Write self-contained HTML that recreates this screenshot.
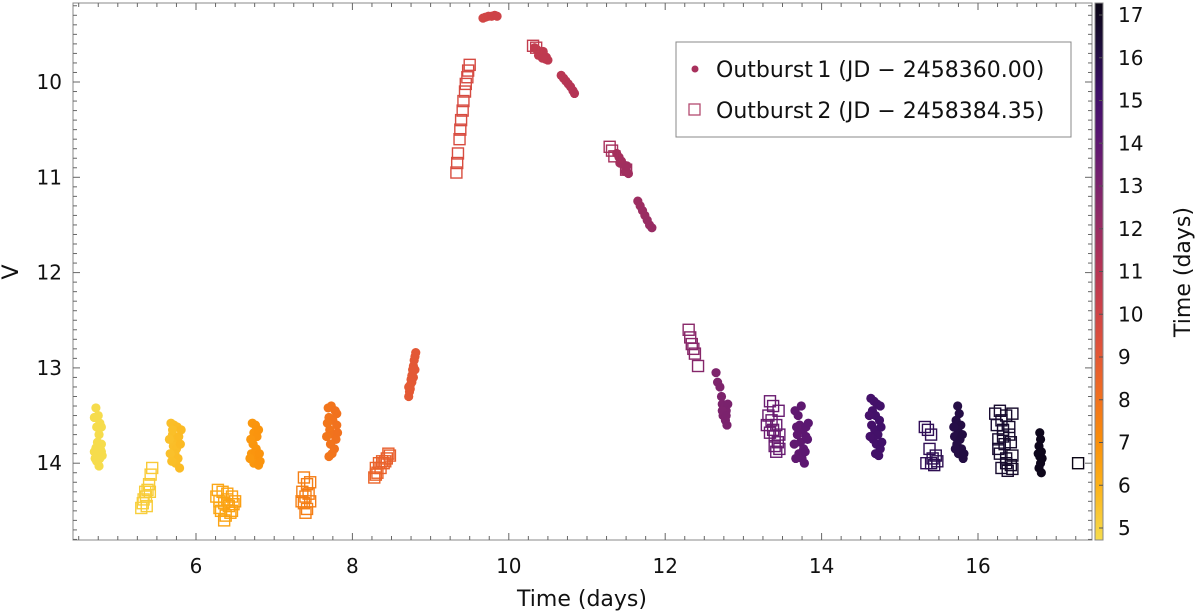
<!DOCTYPE html>
<html><head><meta charset="utf-8"><style>
body{margin:0;background:#fff;}
svg{display:block;font-family:"DejaVu Sans","Liberation Sans",sans-serif;}
</style></head><body>
<svg id="chart" width="1200" height="614">
<defs>
<linearGradient id="cbar" x1="0" y1="1" x2="0" y2="0">
<stop offset="0" stop-color="#f6dc4c"/><stop offset="0.1" stop-color="#fcb21a"/>
<stop offset="0.19" stop-color="#f98c0a"/><stop offset="0.28" stop-color="#ef6b23"/>
<stop offset="0.36" stop-color="#e0533a"/><stop offset="0.44" stop-color="#ca404a"/>
<stop offset="0.52" stop-color="#b03257"/><stop offset="0.6" stop-color="#922b66"/>
<stop offset="0.68" stop-color="#74206f"/><stop offset="0.76" stop-color="#561571"/>
<stop offset="0.84" stop-color="#3b0f66"/><stop offset="0.92" stop-color="#1d0d3a"/>
<stop offset="1" stop-color="#0a0514"/>
</linearGradient>
</defs>
<g id="marks"></g>
<g id="axes"></g>
</svg>
<script>
const xTicks=[6,8,10,12,14,16];
const yTicks=[10,11,12,13,14];
const cTicks=[5,6,7,8,9,10,11,12,13,14,15,16,17];
const outburst1=[
[4.72,13.42],[4.75,13.5],[4.77,13.58],[4.73,13.62],[4.76,13.7],[4.74,13.78],[4.72,13.84],[4.78,13.86],[4.75,13.9],[4.77,13.95],[4.73,13.98],[4.76,14.03],[4.79,13.88],[4.74,13.82],[4.7,13.88],[4.8,13.92],[4.71,13.95],[4.79,13.8],[4.7,13.52],[4.79,13.62],
[5.68,13.58],[5.72,13.6],[5.76,13.62],[5.7,13.7],[5.74,13.75],[5.78,13.72],[5.71,13.82],[5.75,13.85],[5.73,13.9],[5.77,13.95],[5.74,14.0],[5.79,14.05],[5.7,13.65],[5.66,13.75],[5.8,13.8],[5.67,13.9],[5.81,13.65],[5.69,13.98],
[6.72,13.58],[6.76,13.6],[6.74,13.68],[6.78,13.72],[6.73,13.8],[6.77,13.85],[6.71,13.9],[6.75,13.92],[6.79,13.95],[6.74,14.0],[6.8,14.02],[6.76,13.88],[6.69,13.95],[6.81,13.9],[6.7,13.75],[6.8,13.65],[6.82,13.98],
[7.69,13.42],[7.73,13.4],[7.78,13.45],[7.7,13.52],[7.75,13.55],[7.8,13.6],[7.71,13.65],[7.76,13.7],[7.79,13.75],[7.72,13.8],[7.77,13.85],[7.74,13.9],[7.7,13.93],[7.67,13.72],[7.81,13.68],[7.68,13.58],[7.8,13.48],
[8.72,13.3],[8.73,13.25],[8.74,13.18],[8.75,13.12],[8.76,13.08],[8.77,13.02],[8.78,12.98],[8.79,12.92],[8.8,12.88],[8.81,12.84],[8.76,13.15],[8.74,13.22],[8.78,13.1],[8.8,13.02],[8.72,13.2],
[9.67,9.33],[9.7,9.32],[9.74,9.31],[9.78,9.31],[9.82,9.3],[9.85,9.31],
[10.33,9.64],[10.36,9.66],[10.39,9.68],[10.42,9.7],[10.45,9.72],[10.48,9.74],[10.5,9.77],[10.4,9.7],[10.44,9.68],[10.47,9.76],[10.38,9.72],[10.43,9.75],
[10.67,9.93],[10.7,9.96],[10.73,9.99],[10.76,10.02],[10.79,10.05],[10.82,10.09],[10.84,10.12],
[11.38,10.75],[11.41,10.79],[11.44,10.83],[11.47,10.87],[11.5,10.91],[11.53,10.96],[11.45,10.86],[11.49,10.94],[11.42,10.85],[11.51,10.88],
[11.65,11.25],[11.68,11.3],[11.71,11.35],[11.74,11.4],[11.77,11.45],[11.8,11.5],[11.83,11.53],
[12.65,13.05],[12.67,13.15],[12.7,13.2],[12.72,13.3],[12.73,13.38],[12.75,13.42],[12.78,13.45],[12.74,13.5],[12.77,13.55],[12.79,13.6],[12.76,13.4],[12.8,13.38],[12.73,13.45],[12.78,13.5],
[13.66,13.45],[13.7,13.5],[13.74,13.4],[13.72,13.6],[13.76,13.65],[13.69,13.7],[13.8,13.62],[13.73,13.78],[13.77,13.85],[13.71,13.9],[13.75,13.95],[13.78,14.0],[13.82,13.75],[13.65,13.8],[13.83,13.58],[13.68,13.62],[13.79,13.88],[13.67,13.95],[13.8,13.72],
[14.63,13.32],[14.67,13.35],[14.71,13.38],[14.65,13.45],[14.69,13.5],[14.74,13.55],[14.64,13.6],[14.68,13.65],[14.72,13.7],[14.66,13.75],[14.7,13.8],[14.75,13.85],[14.69,13.9],[14.73,13.92],[14.61,13.5],[14.76,13.62],[14.62,13.72],[14.77,13.78],[14.75,13.4],
[15.74,13.4],[15.76,13.48],[15.72,13.55],[15.78,13.6],[15.74,13.65],[15.7,13.72],[15.77,13.75],[15.73,13.8],[15.79,13.85],[15.75,13.9],[15.81,13.95],[15.69,13.62],[15.8,13.7],[15.71,13.85],[15.82,13.9],
[16.79,13.68],[16.8,13.75],[16.78,13.82],[16.81,13.88],[16.79,13.93],[16.8,14.0],[16.78,14.05],[16.81,14.1],[16.77,13.9],[16.82,13.95]
];
const outburst2=[
[5.44,14.05],[5.42,14.12],[5.4,14.22],[5.38,14.28],[5.36,14.35],[5.32,14.42],[5.3,14.47],[5.35,14.3],[5.33,14.38],[5.37,14.45],[5.41,14.3],
[6.28,14.28],[6.34,14.3],[6.4,14.32],[6.46,14.35],[6.3,14.4],[6.36,14.42],[6.42,14.45],[6.48,14.43],[6.32,14.5],[6.38,14.55],[6.44,14.52],[6.36,14.6],[6.26,14.35],[6.5,14.4],[6.46,14.5],[6.3,14.47],[6.4,14.38],
[7.38,14.15],[7.42,14.22],[7.46,14.2],[7.36,14.3],[7.4,14.35],[7.44,14.32],[7.38,14.42],[7.42,14.48],[7.4,14.52],[7.35,14.4],[7.46,14.4],
[8.28,14.15],[8.32,14.1],[8.36,14.05],[8.4,14.0],[8.44,13.95],[8.48,13.92],[8.3,14.05],[8.34,14.0],[8.38,13.98],[8.46,13.9],[8.3,14.12],[8.42,13.98],
[9.33,10.95],[9.34,10.85],[9.35,10.75],[9.37,10.6],[9.38,10.5],[9.39,10.4],[9.41,10.3],[9.42,10.2],[9.44,10.1],[9.45,10.02],[9.47,9.95],[9.48,9.88],[9.5,9.82],
[10.31,9.62],[10.35,9.64],
[11.29,10.68],[11.32,10.72],[11.35,10.78],[11.5,10.92],
[12.3,12.6],[12.32,12.68],[12.34,12.75],[12.36,12.8],[12.38,12.85],[12.42,12.98],
[13.34,13.35],[13.38,13.4],[13.32,13.5],[13.36,13.55],[13.42,13.6],[13.34,13.68],[13.4,13.72],[13.44,13.78],[13.46,13.85],[13.42,13.88],[13.3,13.6],[13.45,13.45],[13.38,13.65],[13.46,13.7],[13.4,13.82],
[15.32,13.62],[15.36,13.65],[15.4,13.7],[15.38,13.85],[15.42,13.95],[15.34,14.0],[15.44,14.02],[15.48,13.98],[15.4,14.0],[15.46,13.92],
[16.22,13.48],[16.28,13.45],[16.36,13.5],[16.44,13.48],[16.24,13.6],[16.32,13.65],[16.4,13.62],[16.26,13.75],[16.34,13.8],[16.42,13.78],[16.28,13.9],[16.36,13.95],[16.44,13.92],[16.3,14.05],[16.38,14.08],[16.42,14.02],[16.3,13.55],[16.4,13.7],[16.26,13.85],[16.36,14.0],[16.44,14.06],[16.32,13.72],
[17.28,14.0]
];
const NS="http://www.w3.org/2000/svg";
const L=73,R=1092,T=3,B=540;
const xs=t=>196+(t-6)*78.2;
const ys=v=>82+(v-10)*95.3;
const cs=c=>528-(c-5)*42.75;
const stops=[[5,[246,220,76]],[6,[252,178,26]],[7,[249,140,10]],[8,[239,107,35]],[9,[224,83,58]],[10,[202,64,74]],[11,[176,50,87]],[12,[146,43,102]],[13,[116,32,111]],[14,[86,21,113]],[15,[59,15,102]],[16,[29,13,58]],[17,[10,5,20]]];
function cmap(t){
  if(t<=5)return 'rgb('+stops[0][1]+')';
  if(t>=17)return 'rgb('+stops[12][1]+')';
  const i=Math.floor(t-5),f=t-5-i,a=stops[i][1],b=stops[i+1][1];
  return 'rgb('+a.map((v,k)=>Math.round(v+(b[k]-v)*f)).join(',')+')';
}
function mk(tag,attrs,parent){const e=document.createElementNS(NS,tag);for(const k in attrs)e.setAttribute(k,attrs[k]);parent.appendChild(e);return e;}
const marks=document.getElementById('marks');
const axes=document.getElementById('axes');
outburst1.forEach(p=>{
  const c=mk('circle',{cx:xs(p[0]),cy:ys(p[1]),r:4.6,fill:cmap(p[0])},marks);
  
  
});
outburst2.forEach(p=>{
  const s=mk('rect',{x:xs(p[0])-5.5,y:ys(p[1])-5.5,width:11,height:11,fill:'none',stroke:cmap(p[0]),'stroke-width':1.4},marks);
  
  
});
const frame=mk('rect',{x:L,y:T,width:R-L,height:B-T,fill:'none',stroke:'#888','stroke-width':1},axes);


for(let t=4.5;t<=17.4;t+=0.25){
  const x=xs(t);if(x<L||x>R)continue;
  const major=Math.abs(t-Math.round(t))<0.01&&Math.round(t)%2===0;
  const len=major?7:4;
  mk('line',{x1:x,x2:x,y1:B,y2:B-len,stroke:'#666'},axes);
  mk('line',{x1:x,x2:x,y1:T,y2:T+len,stroke:'#666'},axes);
}
for(let v=9.2;v<=14.8;v+=0.1){
  const y=ys(v);if(y<T||y>B)continue;
  const major=Math.abs(v-Math.round(v))<0.01;
  const len=major?7:4;
  mk('line',{x1:L,x2:L+len,y1:y,y2:y,stroke:'#666'},axes);
  mk('line',{x1:R,x2:R-len,y1:y,y2:y,stroke:'#666'},axes);
}
xTicks.forEach(t=>{
  const e=mk('text',{x:xs(t),y:573,'font-size':20,'text-anchor':'middle',fill:'#111'},axes);
  e.textContent=t;
  
  
});
yTicks.forEach(v=>{
  const e=mk('text',{x:62,y:ys(v)+7,'font-size':20,'text-anchor':'end',fill:'#111'},axes);
  e.textContent=v;
  
  
});
const xt=mk('text',{x:582,y:606,'font-size':22,'text-anchor':'middle',fill:'#111'},axes);
xt.textContent='Time (days)';


const yt=mk('text',{x:18,y:272,'font-size':22,'text-anchor':'middle',fill:'#111',transform:'rotate(-90 18 272)'},axes);
yt.textContent='V';


const cb=mk('rect',{x:1095,y:T,width:8,height:B-T,fill:'url(#cbar)',stroke:'#888','stroke-width':1},axes);


cTicks.forEach(c=>{
  mk('line',{x1:1099,x2:1103,y1:cs(c),y2:cs(c),stroke:'#555'},axes);
  const e=mk('text',{x:1118,y:cs(c)+7,'font-size':20,fill:'#111'},axes);
  e.textContent=c;
  
  
});
const ct=mk('text',{x:1190,y:272,'font-size':22,'text-anchor':'middle',fill:'#111',transform:'rotate(-90 1190 272)'},axes);
ct.textContent='Time (days)';


const lg=mk('g',{},axes);


mk('rect',{x:676,y:42,width:395,height:95,fill:'#fff',stroke:'#888','stroke-width':1},lg);
mk('circle',{cx:695,cy:69,r:3.5,fill:'#a8305c'},lg);
const l1=mk('text',{x:716,y:77,'font-size':22,fill:'#111'},lg);
l1.textContent='Outburst\u20091 (JD \u2212 2458360.00)';


mk('rect',{x:689,y:104,width:11,height:11,fill:'none',stroke:'#b44a70','stroke-width':1.3},lg);
const l2=mk('text',{x:716,y:118,'font-size':22,fill:'#111'},lg);
l2.textContent='Outburst\u20092 (JD \u2212 2458384.35)';


</script>
</body></html>
